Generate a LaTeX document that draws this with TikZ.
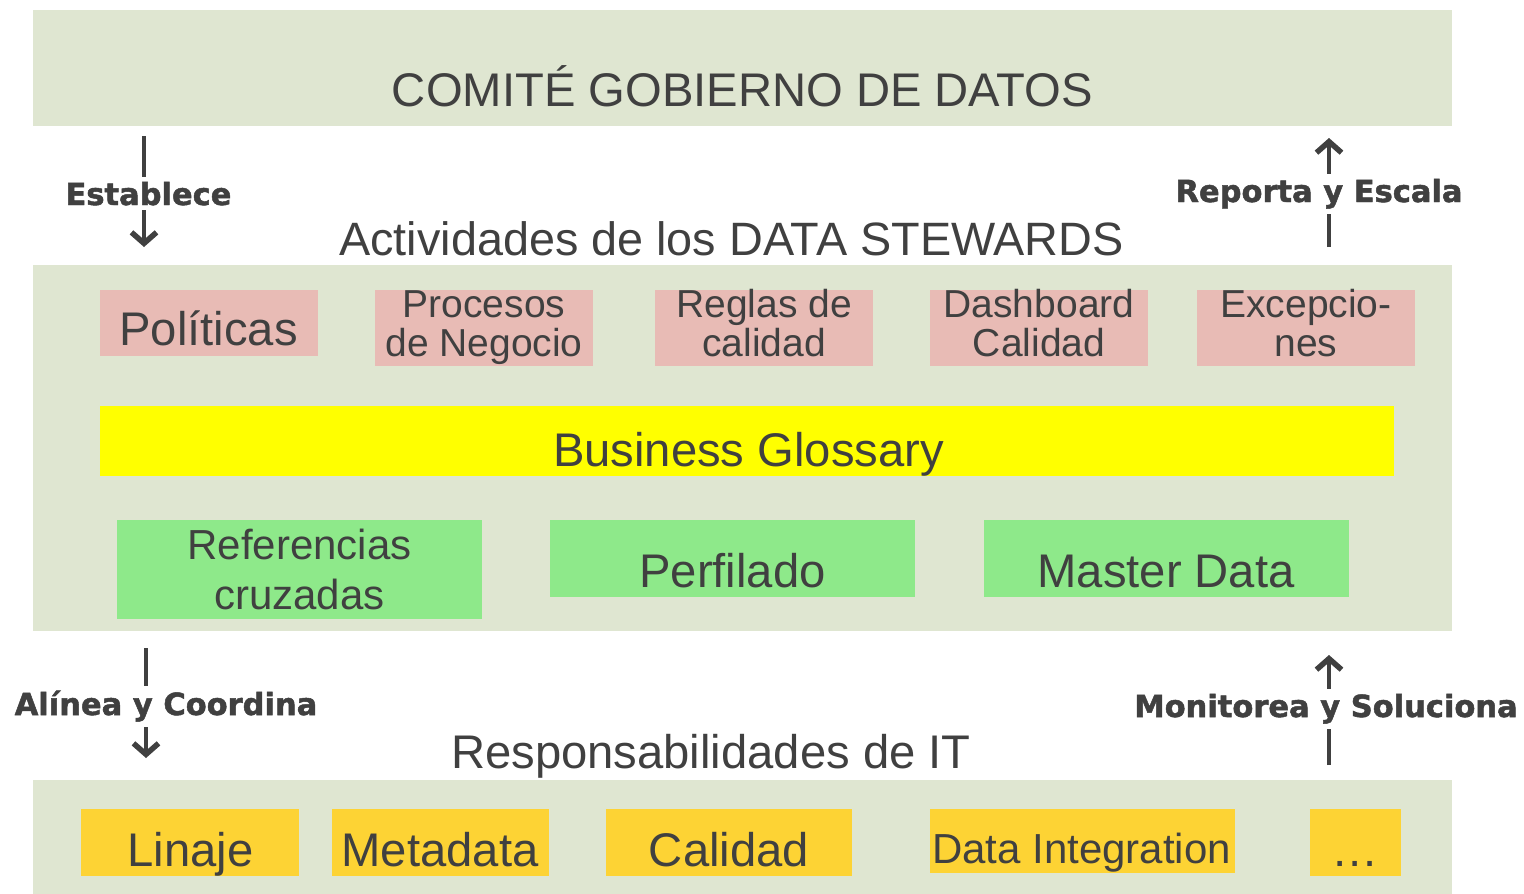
\documentclass[tikz,border=0pt]{standalone}
\usepackage{fontspec}
\setmainfont{Liberation Sans}
\newfontfamily\lblfont{DejaVu Sans}[BoldFeatures={FakeBold=1.6}]
\usetikzlibrary{arrows.meta}
\definecolor{bandc}{RGB}{223,230,209}
\definecolor{pinkc}{RGB}{232,187,181}
\definecolor{yellowc}{RGB}{255,255,0}
\definecolor{greenc}{RGB}{142,233,138}
\definecolor{orangec}{RGB}{253,211,52}
\definecolor{textc}{RGB}{64,64,64}
\begin{document}
\begin{tikzpicture}[x=1pt,y=-1pt,
  box/.style={rectangle, draw=none, inner sep=0pt, outer sep=0pt},
  band/.style={box, fill=bandc, minimum width=1419pt},
  pinkbox/.style={box, fill=pinkc, minimum width=218pt},
  greenbox/.style={box, fill=greenc, minimum width=365pt},
  orangebox/.style={box, fill=orangec},
  txt/.style={inner sep=0pt, text=textc},
  big/.style={font=\fontsize{47.2}{47.2}\selectfont},
  mid/.style={font=\fontsize{39}{39}\selectfont, align=center},
  lbl/.style={text=textc, fill=white, inner xsep=1pt, inner ysep=5pt, font=\lblfont\bfseries\fontsize{30.5}{30.5}\selectfont},
  flow/.style={draw=textc, line width=4.5pt, -{Straight Barb[length=11pt,width=25pt,line width=5.5pt]}}
]
\useasboundingbox (0,0) rectangle (1524,894);
\fill[white] (0,0) rectangle (1524,894);

% bands
\node[band, minimum height=116pt] (top) at (742.5,68) {};
\node[band, minimum height=366pt] (midband) at (742.5,448) {};
\node[band, minimum height=114pt] (bot) at (742.5,837) {};

% titles
\node[txt, big, anchor=base] (comite) at (742.5,106) {COMITÉ GOBIERNO DE DATOS};
\node[txt, font=\fontsize{46.8}{46.8}\selectfont, anchor=base] (activ) at (731.5,255) {Actividades de los DATA STEWARDS};
\node[txt, font=\fontsize{47.2}{47.2}\selectfont, anchor=base] (resp) at (711,768) {Responsabilidades de IT};

% pink boxes
\node[pinkbox, minimum height=66pt] (pol) at (209,323) {};
\node[pinkbox, minimum height=76pt] (proc) at (484,328) {};
\node[pinkbox, minimum height=76pt] (regl) at (764,328) {};
\node[pinkbox, minimum height=76pt] (dash) at (1039,328) {};
\node[pinkbox, minimum height=76pt] (exc) at (1306,328) {};
\node[txt, big, anchor=base] (polT) at (208.5,345) {Políticas};
\node[txt, mid] (procT) at (484,327.5) {Procesos\\de Negocio};
\node[txt, mid] (reglT) at (764,323) {Reglas de\\calidad};
\node[txt, mid] (dashT) at (1039,323) {Dashboard\\Calidad};
\node[txt, mid] (excT) at (1306,323.5) {Excepcio-\\nes};

% yellow
\node[box, fill=yellowc, minimum width=1294pt, minimum height=70pt] (bg) at (747,441) {};
\node[txt, big, anchor=base] (bgT) at (748.5,466) {Business Glossary};

% green
\node[greenbox, minimum height=99pt] (ref) at (299.5,569.5) {};
\node[greenbox, minimum height=77pt] (perf) at (732.5,558.5) {};
\node[greenbox, minimum height=77pt] (mast) at (1166.5,558.5) {};
\node[txt, font=\fontsize{42}{50}\selectfont, align=center] (refT) at (299.5,569.7) {Referencias\\cruzadas};
\node[txt, big, anchor=base] (perfT) at (732.5,587) {Perfilado};
\node[txt, big, anchor=base] (mastT) at (1166,587) {Master Data};

% orange
\node[orangebox, minimum width=218pt, minimum height=67pt] (lin) at (190,842.5) {};
\node[orangebox, minimum width=217pt, minimum height=67pt] (meta) at (440.5,842.5) {};
\node[orangebox, minimum width=246pt, minimum height=67pt] (cal) at (729,842.5) {};
\node[orangebox, minimum width=305pt, minimum height=64pt] (di) at (1082.5,841) {};
\node[orangebox, minimum width=91pt, minimum height=67pt] (etc) at (1355.5,842.5) {};
\node[txt, big, anchor=base] (linT) at (190.5,866) {Linaje};
\node[txt, big, anchor=base] (metaT) at (440,866) {Metadata};
\node[txt, big, anchor=base] (calT) at (729,866) {Calidad};
\node[txt, font=\fontsize{42}{42}\selectfont, anchor=base] (diT) at (1081.5,863) {Data Integration};
\node[txt, big, anchor=base] (etcT) at (1355,866) {\dots};

% arrows
\coordinate (a1s) at (144,136); \coordinate (a1e) at (144,247);
\coordinate (a2s) at (1329,247); \coordinate (a2e) at (1329,138);
\coordinate (a3s) at (146,648); \coordinate (a3e) at (146,758);
\coordinate (a4s) at (1329,765); \coordinate (a4e) at (1329,655);
\draw[flow] (a1s) -- (a1e);
\draw[flow] (a2s) -- (a2e);
\draw[flow] (a3s) -- (a3e);
\draw[flow] (a4s) -- (a4e);

\node[lbl, anchor=base] (l1) at (148.5,205) {Establece};
\node[lbl, anchor=base] (l2) at (1319,202) {Reporta y Escala};
\node[lbl, anchor=base] (l3) at (166,715) {Alínea y Coordina};
\node[lbl, anchor=base] (l4) at (1326,717) {Monitorea y Soluciona};
\end{tikzpicture}
\end{document}
